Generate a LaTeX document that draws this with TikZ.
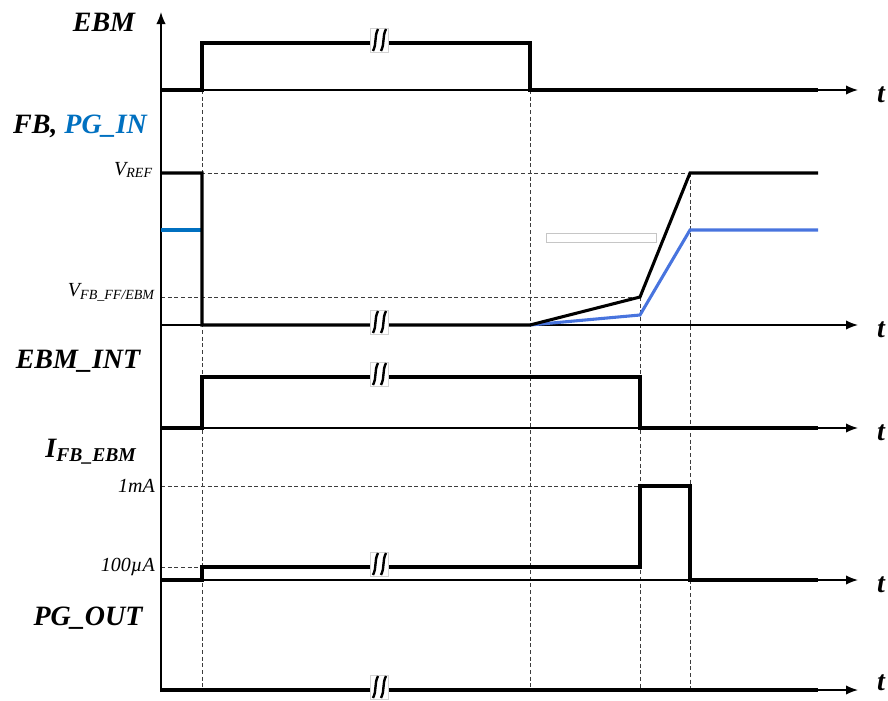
\documentclass[tikz,border=0pt]{standalone}
\usepackage{fontspec}
\setmainfont{Liberation Serif}
\usetikzlibrary{arrows.meta}
\definecolor{pgblue}{RGB}{0,112,192}
\definecolor{rampblue}{RGB}{72,116,222}
\definecolor{dashgray}{RGB}{60,60,60}

\begin{document}
\begin{tikzpicture}
  [x=0.75pt,y=-0.75pt,
   axis/.style={line width=1.1pt,-{Latex[length=9pt,width=7pt]}},
   sig/.style={line width=2.3pt,line join=miter},
   guide/.style={dash pattern=on 3pt off 2pt,line width=0.5pt,dashgray},
   big/.style={font=\fontsize{21}{25}\selectfont\bfseries\itshape,inner sep=0pt},
   lvl/.style={font=\fontsize{15}{17}\selectfont\itshape,anchor=east,inner sep=0pt},
   brk/.pic={
     \fill[white] (-9,-12) rectangle (9,12);
     \draw[gray!35,line width=0.4pt] (-9,-12) rectangle (9,12);
     \draw[line width=1.8pt] (-1,-11) .. controls (-5,-3) and (-2,3) .. (-6,11);
     \draw[line width=1.8pt] (7,-11) .. controls (3,-3) and (6,3) .. (2,11);
   }]
  \useasboundingbox (0,0) rectangle (888,700);

  % guide lines
  \foreach \x/\top in {202/90,530/90,640/297,690/173}
    \draw[guide] (\x,\top) -- (\x,690);
  \foreach \y/\right in {173/818,297/640,486/640,567/202}
    \draw[guide] (161,\y) -- (\right,\y);
  \draw[gray!45,line width=0.6pt,fill=white] (546,233) rectangle (656,242);

  % axes
  \draw[axis] (161,692) -- (161,12);
  \foreach \y/\ty [count=\i] in {90/95,325/330,428/433,580/585,690/683} {
    \draw[axis] (161,\y) -- (858,\y);
    \node[big] (t\i) at (881,\ty) {t};
  }

  % waveforms
  \draw[sig] (161,90) -- (202,90) -- (202,43) -- (530,43) -- (530,90) -- (818,90);
  \draw[sig,pgblue] (161,230) -- (202,230);
  \draw[sig,rampblue] (530,325) -- (640,315) -- (690,230) -- (818,230);
  \draw[sig] (161,173) -- (202,173) -- (202,325) -- (530,325) -- (640,297)
    -- (690,173) -- (818,173);
  \draw[sig] (161,428) -- (202,428) -- (202,377) -- (640,377) -- (640,428) -- (818,428);
  \draw[sig] (161,580) -- (202,580) -- (202,567) -- (640,567) -- (640,486)
    -- (690,486) -- (690,580) -- (818,580);
  \draw[sig] (161,690) -- (818,690);

  \foreach \y in {43,325,377,567,690}
    \pic at (379,\y-3) {brk};

  % labels
  \node[big] (ebm) at (104,22) {EBM};
  \node[big] (fb) at (80,126) {FB, \textcolor{pgblue}{PG\_IN}};
  \node[big] (int) at (78,361) {EBM\_INT};
  \node[big] (ifb) at (91,452) {I\textsubscript{FB\_EBM}};
  \node[big] (pgo) at (88,618) {PG\_OUT};
  \node[lvl] (vref) at (153,170) {V\textsubscript{REF}};
  \node[lvl] (vff) at (155,292) {V\textsubscript{FB\_FF/EBM}};
  \node[lvl] (ma) at (155,486) {1mA};
  \node[lvl] (ua) at (155,567) {100µA};
\end{tikzpicture}
\end{document}
